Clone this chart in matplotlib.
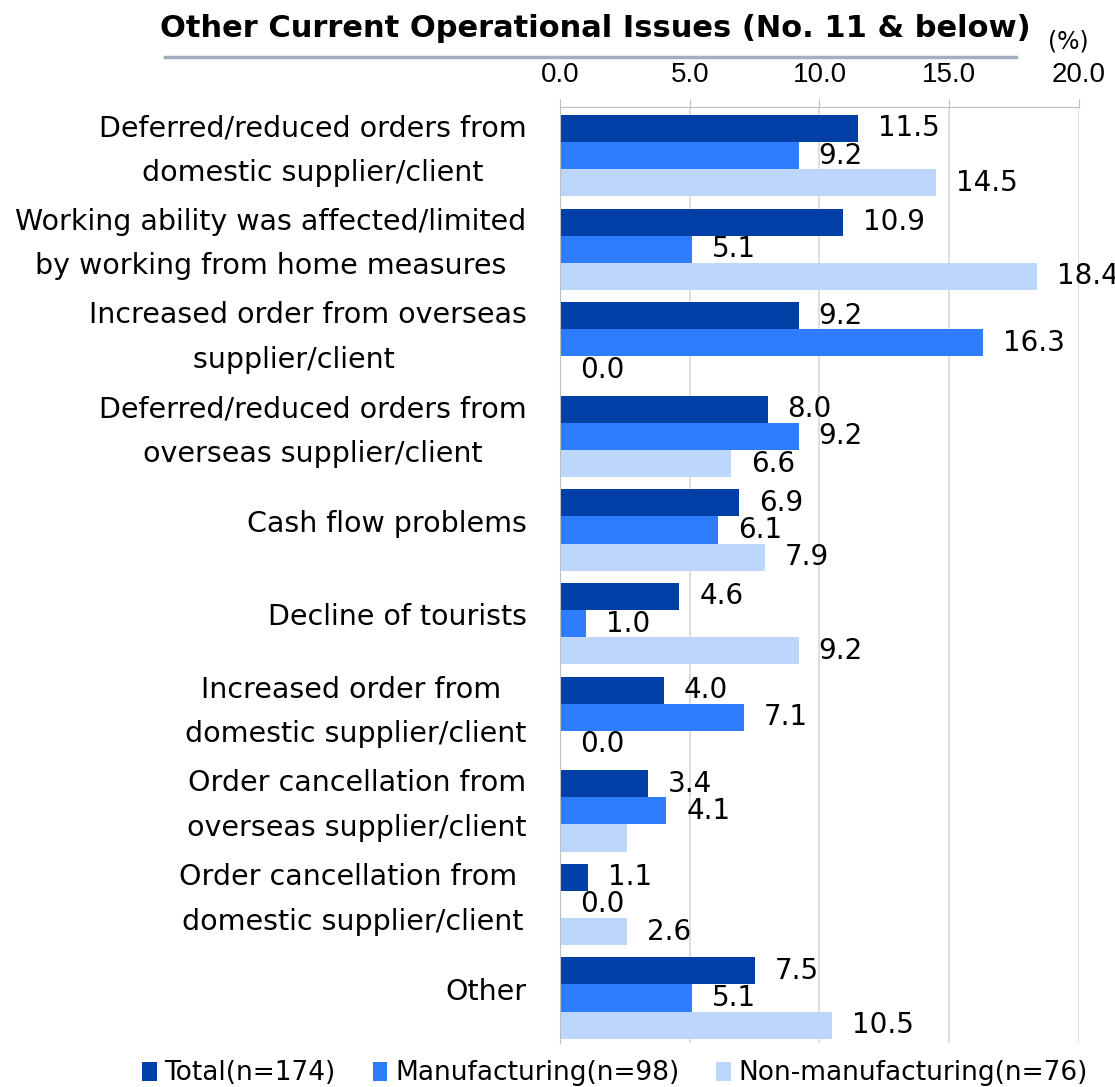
import numpy as np
import matplotlib
matplotlib.use("Agg")
from matplotlib import pyplot as plt

# survey categories, top to bottom
categories = [
    "Deferred/reduced orders from\ndomestic supplier/client",
    "Working ability was affected/limited\nby working from home measures",
    "Increased order from overseas\nsupplier/client   ",
    "Deferred/reduced orders from\noverseas supplier/client",
    "Cash flow problems",
    "Decline of tourists",
    "Increased order from \ndomestic supplier/client",
    "Order cancellation from\noverseas supplier/client",
    "Order cancellation from \ndomestic supplier/client",
    "Other",
]

total = [11.5, 10.9, 9.2, 8.0, 6.9, 4.6, 4.0, 3.4, 1.1, 7.5]
manufacturing = [9.2, 5.1, 16.3, 9.2, 6.1, 1.0, 7.1, 4.1, 0.0, 5.1]
non_manufacturing = [14.5, 18.4, 0.0, 6.6, 7.9, 9.2, 0.0, 2.6, 2.6, 10.5]

series_names = ["Total(n=174)", "Manufacturing(n=98)", "Non-manufacturing(n=76)"]
colors = ["#0040a6", "#2f7dff", "#bdd6fc"]
# (row, series) pairs whose value label is left off
no_label = [(7, 2)]

plt.rcParams["font.family"] = ["DejaVu Sans"]

fig = plt.figure(figsize=(11.15, 10.87), dpi=100)
ax = fig.add_axes([0.5022, 0.0405, 0.4655, 0.8611])

y = np.arange(len(categories))
h = 0.29
series = [total, manufacturing, non_manufacturing]
bars = []
for k, vals in enumerate(series):
    pos = y + (k - 1) * h
    b = ax.barh(pos, vals, height=h, color=colors[k], label=series_names[k])
    bars.append(b)
    for i, v in enumerate(vals):
        if (i, k) in no_label:
            continue
        ax.annotate(f"{v:.1f}", xy=(v, pos[i]), xytext=(20, 0),
                    textcoords="offset pixels", va="center", ha="left",
                    fontsize=20, annotation_clip=False)

ax.set_xlim(0, 20)
ax.set_ylim(9.48, -0.52)
ax.set_xticks([0, 5, 10, 15, 20])
ax.set_xticklabels([f"{t:.1f}" for t in [0, 5, 10, 15, 20]],
                   fontfamily="Liberation Sans", fontsize=20)
ax.xaxis.tick_top()
ax.tick_params(axis="x", direction="out", length=6, color="#bfbfbf", pad=8)

# category labels sit a little above the middle of each group
lift = [0.175 if "\n" in c else 0.1 for c in categories]
ax.set_yticks(y - np.array(lift))
ax.set_yticklabels(categories, fontsize=20.5, multialignment="center",
                   linespacing=1.75)
ax.tick_params(axis="y", length=0, pad=24)

ax.grid(axis="x", color="#d9d9d9", linewidth=1.2)
ax.set_axisbelow(True)
for side in ["right", "bottom"]:
    ax.spines[side].set_visible(False)
ax.spines["top"].set_color("#bfbfbf")
ax.spines["left"].set_color("#bfbfbf")

fig.text(0.5336, 0.974, "Other Current Operational Issues (No. 11 & below)",
         ha="center", va="center", fontsize=22, fontweight="bold")
fig.text(0.958, 0.962, "(%)", ha="center", va="center", fontsize=17)
fig.add_artist(plt.Line2D([0.148, 0.911], [0.9476, 0.9476],
                          color="#a4aebf", linewidth=2.5))

fig.legend(handles=bars, labels=series_names, ncol=3, loc="lower center",
           bbox_to_anchor=(0.5516, -0.014), frameon=False, fontsize=19,
           handlelength=0.55, handleheight=0.75, handletextpad=0.3,
           columnspacing=1.4, borderaxespad=0.2)

fig.savefig("out.png", dpi=100)
